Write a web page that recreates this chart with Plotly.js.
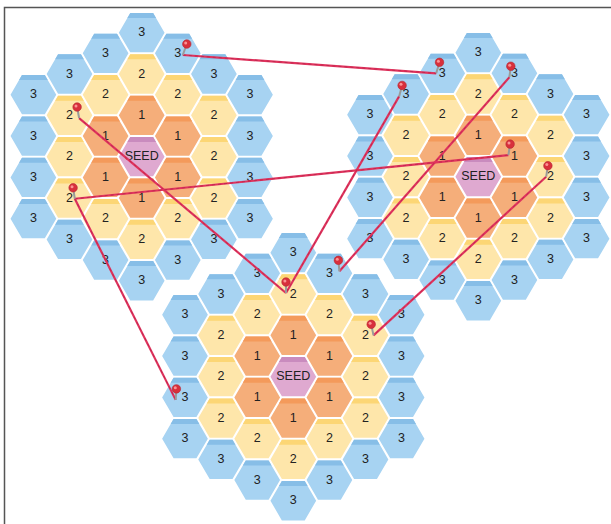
<!DOCTYPE html>
<html>
<head>
<meta charset="utf-8">
<script src="https://cdn.plot.ly/plotly-3.0.1.min.js"></script>
<style>html,body{margin:0;padding:0;background:#fff;}#chart{width:611px;height:524px;}</style>
</head>
<body>
<div id="chart"></div>
<script>
// ---------------- DATA ----------------
// three hex clusters (seed cell positions, in chart units)
const clusterNames = ['A', 'B', 'C'];
const clusterCenterX = [141.7, 478.3, 293.3];
const clusterCenterY = [156.7, 176.7, 376.7];
const clusterRadius = 3;
// label shown for each ring distance from the seed
const ringLabels = ['SEED', '1', '2', '3'];

// pinned cells: cluster index, axial q, axial r
const pinCluster = [0, 1, 0, 0, 2, 2, 2, 2, 1, 1, 1, 1];
const pinQ       = [1, -1, -2, -2, 0, 1, 2, -3, -2, 1, 1, 2];
const pinR       = [-3, -2, 0, 2, -2, -3, -2, 2, -1, -3, -1, -1];
// where the pin is stuck inside its cell (offset from cell centre)
const pinDx      = [5, -6, 9.6, 5.3, -7.3, 10, 8, -9.3, -7, -5, -6, -4.3];
const pinDy      = [1.7, 0, 2.7, 0.7, -1, -2, 0, 2.5, 2.4, 3.9, -0.9, 0];
// lean of the pin head
const pinLean    = [4, 3.3, -2, -1.7, 0, -1, -2.3, 0.7, 3, 1.4, 1.7, 1.7];

// strings between pins (index into pin arrays)
const linkFrom = [0, 2, 3, 3, 8, 9, 11];
const linkTo   = [1, 4, 10, 7, 4, 5, 6];

// ---------------- STYLE ----------------
const stepX = 36.1, stepY = 41.35;
const shrink = 0.95;
const stripH = 5;
const fillColors  = ['#dfa9d0', '#f5ae7a', '#fee6aa', '#a7d3f2'];
const stripColors = ['#c98bbe', '#f49a5b', '#fcd675', '#87bee7'];
const textColor = '#222222';
const linkColor = '#e0335d';

// ---------------- BUILD ----------------
const R = clusterRadius;
const cells = [];
for (let c = 0; c < clusterNames.length; c++) {
  for (let q = -R; q <= R; q++) {
    for (let r = Math.max(-R, -q - R); r <= Math.min(R, -q + R); r++) {
      const ring = Math.max(Math.abs(q), Math.abs(r), Math.abs(q + r));
      cells.push({c, q, r, ring});
    }
  }
}
function cellXY(c, q, r) {
  return [clusterCenterX[c] + stepX * q, clusterCenterY[c] + stepY * (r + q / 2)];
}
const sd = stepX / 1.5 * shrink;      // half width of drawn hex
const hd = stepY / 2 * shrink;        // half height of drawn hex
const traces = [];
for (let ring = 0; ring <= R; ring++) {
  const hx = [], hy = [], sx = [], sy = [];
  cells.filter(k => k.ring === ring).forEach(k => {
    const [cx, cy] = cellXY(k.c, k.q, k.r);
    const vx = [cx + sd, cx + sd / 2, cx - sd / 2, cx - sd, cx - sd / 2, cx + sd / 2, cx + sd];
    const vy = [cy, cy + hd, cy + hd, cy, cy - hd, cy - hd, cy];
    hx.push(...vx, null); hy.push(...vy, null);
    const d = stripH * (sd / 2) / hd;
    sx.push(cx - sd / 2, cx + sd / 2, cx + sd / 2 + d, cx - sd / 2 - d, cx - sd / 2, null);
    sy.push(cy - hd, cy - hd, cy - hd + stripH, cy - hd + stripH, cy - hd, null);
  });
  traces.push({x: hx, y: hy, mode: 'lines', fill: 'toself', fillcolor: fillColors[ring],
    line: {width: 0, color: fillColors[ring]}, hoverinfo: 'skip'});
  traces.push({x: sx, y: sy, mode: 'lines', fill: 'toself', fillcolor: stripColors[ring],
    line: {width: 0, color: stripColors[ring]}, hoverinfo: 'skip'});
}
// labels
const lx = [], ly = [], lt = [];
cells.forEach(k => {
  const [cx, cy] = cellXY(k.c, k.q, k.r);
  lx.push(cx); ly.push(cy + 0.5); lt.push(ringLabels[k.ring]);
});
traces.push({x: lx, y: ly, text: lt, mode: 'text', textposition: 'middle center',
  textfont: {family: 'Liberation Sans, Arial, sans-serif', size: 12.5, color: textColor}, hoverinfo: 'skip'});

// pins
const tipX = [], tipY = [], headX = [], headY = [];
for (let i = 0; i < pinQ.length; i++) {
  const [cx, cy] = cellXY(pinCluster[i], pinQ[i], pinR[i]);
  tipX.push(cx + pinDx[i]); tipY.push(cy + pinDy[i]);
  headX.push(cx + pinDx[i] + pinLean[i]); headY.push(cy + pinDy[i] - 11);
}
// links
for (let j = 0; j < linkFrom.length; j++) {
  const a = linkFrom[j], b = linkTo[j];
  traces.push({x: [tipX[a], tipX[b]], y: [tipY[a], tipY[b]], mode: 'lines',
    line: {color: linkColor, width: 2.2}, hoverinfo: 'skip'});
  traces.push({x: [tipX[a], tipX[b]], y: [tipY[a], tipY[b]], mode: 'lines',
    line: {color: '#a71d44', width: 0.9, dash: 'dot'}, opacity: 0.6, hoverinfo: 'skip'});
}
// pin stems
const stx = [], sty = [];
for (let i = 0; i < pinQ.length; i++) {
  stx.push(tipX[i], headX[i], null); sty.push(tipY[i], headY[i], null);
}
traces.push({x: stx, y: sty, mode: 'lines', line: {color: '#9a9a9a', width: 2}, hoverinfo: 'skip'});
traces.push({x: headX, y: headY, mode: 'markers',
  marker: {size: 8.5, color: '#d8303c', line: {width: 0.6, color: '#b52530'}}, hoverinfo: 'skip'});
traces.push({x: headX.map(v => v - 1.1), y: headY.map(v => v - 1.1), mode: 'markers',
  marker: {size: 3, color: '#ff9e9e', line: {width: 0}}, opacity: 0.9, hoverinfo: 'skip'});

const layout = {
  width: 611, height: 524,
  margin: {l: 0, r: 0, t: 0, b: 0},
  paper_bgcolor: '#ffffff', plot_bgcolor: '#ffffff',
  showlegend: false, hovermode: false,
  xaxis: {range: [0, 611], visible: false, fixedrange: true},
  yaxis: {range: [524, 0], visible: false, fixedrange: true},
  shapes: [{type: 'path', xref: 'x', yref: 'y', path: 'M 4.5,530 L 4.5,7.5 L 620,7.5',
    line: {color: '#555555', width: 1.5}, layer: 'below'}]
};
Plotly.newPlot('chart', traces, layout, {staticPlot: true, displayModeBar: false});
</script>
</body>
</html>
